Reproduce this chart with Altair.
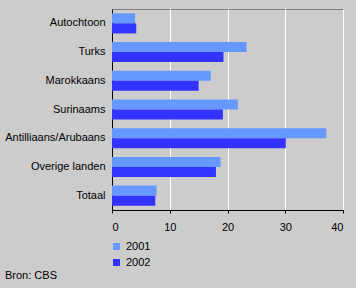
import altair as alt
import pandas as pd

categories = ["Autochtoon", "Turks", "Marokkaans", "Surinaams",
              "Antilliaans/Arubaans", "Overige landen", "Totaal"]
v2001 = [4.0, 23.3, 17.1, 21.8, 37.1, 18.8, 7.7]
v2002 = [4.2, 19.3, 15.0, 19.2, 30.1, 18.0, 7.5]
years = ["2001", "2002"]
colors = ["#6699FF", "#3333FF"]
x_ticks = [0, 10, 20, 30, 40]

rows = []
for c, a, b in zip(categories, v2001, v2002):
    rows.append({"cat": c, "year": years[0], "value": a})
    rows.append({"cat": c, "year": years[1], "value": b})
df = pd.DataFrame(rows)

FONT = "Liberation Sans"

chart = alt.Chart(df).mark_bar().encode(
    y=alt.Y("cat:N", sort=categories, title=None,
            scale=alt.Scale(paddingInner=0.3, paddingOuter=0.15),
            axis=alt.Axis(ticks=False, domainColor="black", labelPadding=7,
                          labelFontSize=11, labelFont=FONT, labelColor="black",
                          grid=False)),
    yOffset=alt.YOffset("year:N", sort=years,
                        scale=alt.Scale(paddingInner=0, paddingOuter=0)),
    x=alt.X("value:Q", title=None, scale=alt.Scale(domain=[0, 40], nice=False),
            axis=alt.Axis(values=x_ticks, grid=True, gridColor="white",
                          gridOpacity=1, gridWidth=1, domainColor="black",
                          tickColor="black", tickSize=3, labelPadding=8,
                          labelFontSize=11, labelFont=FONT, labelColor="black")),
    color=alt.Color("year:N", scale=alt.Scale(domain=years, range=colors),
                    legend=alt.Legend(title=None, orient="none", legendX=-1,
                                      legendY=232, symbolType="square",
                                      symbolSize=49, symbolStrokeWidth=0,
                                      labelFontSize=11, labelFont=FONT,
                                      labelColor="black", labelOffset=4,
                                      rowPadding=4, padding=0)),
).properties(
    width=231, height=201,
    background="#CCCCCC",
    autosize="none",
    padding={"left": 112, "top": 9, "right": 13, "bottom": 78},
    title=alt.TitleParams("Bron: CBS", orient="bottom", anchor="start",
                          frame="group", dx=-107, offset=2, fontSize=11,
                          font=FONT, fontWeight="normal", color="black"),
).configure_view(stroke="#808080", strokeWidth=1)

chart.save("out.html", embed_options={"renderer": "svg", "actions": False})
